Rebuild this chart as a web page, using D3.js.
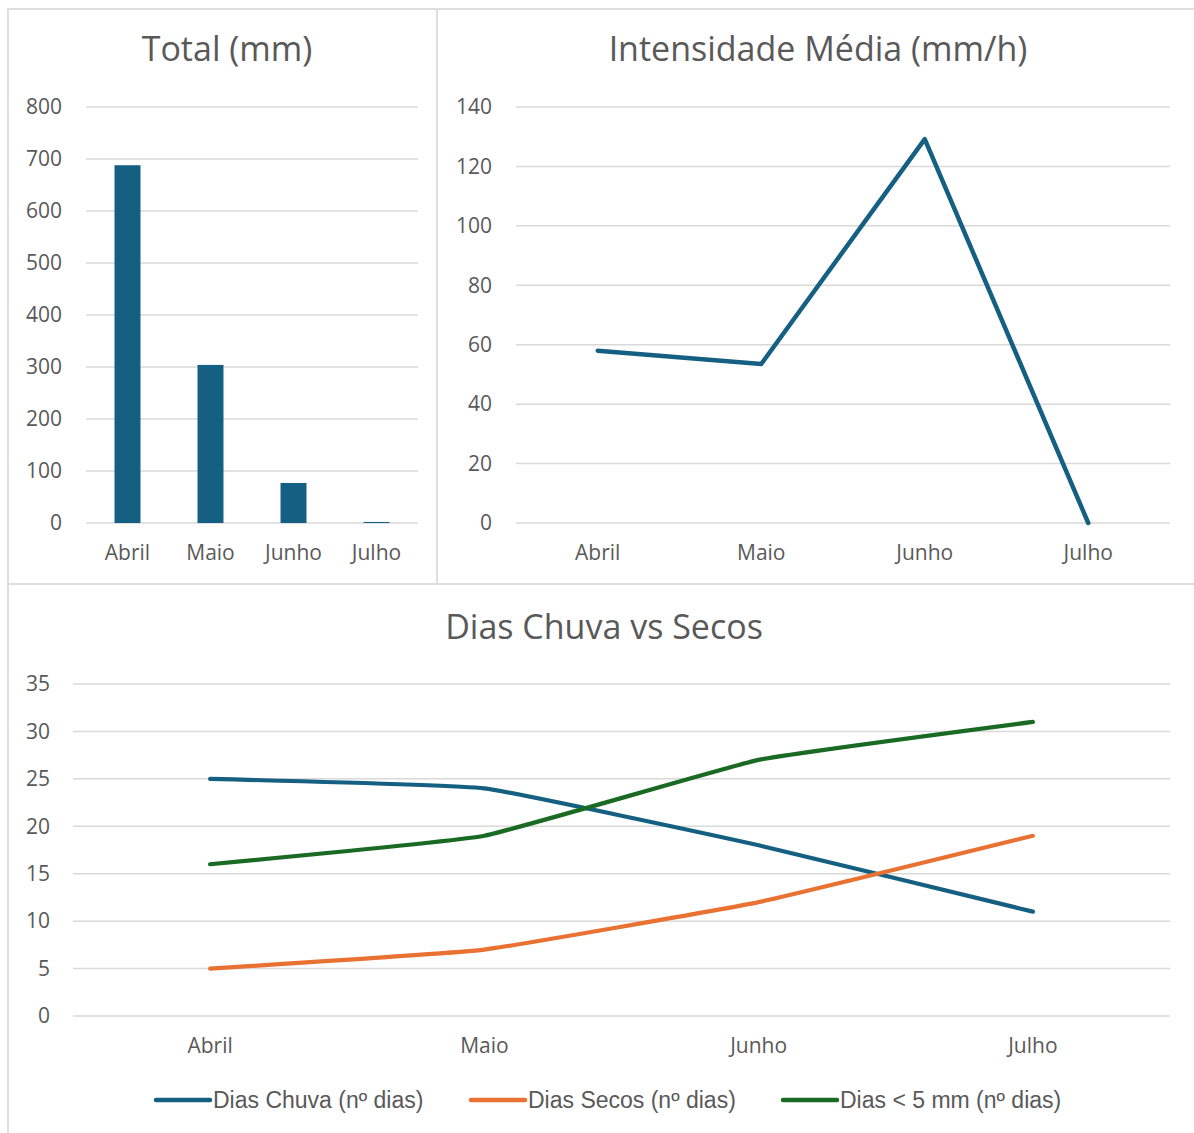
<!DOCTYPE html>
<html>
<head>
<meta charset="utf-8">
<script src="https://cdn.jsdelivr.net/npm/d3@7"></script>
<style>
  html, body { margin: 0; padding: 0; background: #ffffff; }
  svg { display: block; font-family: "Open Sans", "Noto Sans", sans-serif; }
</style>
</head>
<body>
<svg id="chart" width="1194" height="1133"></svg>
<script>
// ---- data ----
const categories = ["Abril", "Maio", "Junho", "Julho"];
const totalMm = [688, 304, 77, 2];
const intensidadeMedia = [58, 53.5, 129.2, 0];
const diasChuva = [25, 24, 18, 11];
const diasSecos = [5, 7, 12, 19];
const diasMenos5 = [16, 19, 27, 31];
const totalTicks = [0, 100, 200, 300, 400, 500, 600, 700, 800];
const intensTicks = [0, 20, 40, 60, 80, 100, 120, 140];
const diasTicks = [0, 5, 10, 15, 20, 25, 30, 35];
const titles = ["Total (mm)", "Intensidade Média (mm/h)", "Dias Chuva vs Secos"];
const seriesNames = ["Dias Chuva (nº dias)", "Dias Secos (nº dias)", "Dias < 5 mm (nº dias)"];
const colors = { blue: "#156082", orange: "#E97132", green: "#196B24" };

const TEXT = "#595959", GRID = "#d9d9d9", BORDER = "#dedede";
const svg = d3.select("#chart");

// ---- panel borders ----
const borders = svg.append("g").attr("fill", "none").attr("stroke", BORDER).attr("stroke-width", 2);
borders.append("line").attr("x1", 7).attr("x2", 1194).attr("y1", 9).attr("y2", 9);
borders.append("line").attr("x1", 8).attr("x2", 8).attr("y1", 8).attr("y2", 1133);
borders.append("line").attr("x1", 437).attr("x2", 437).attr("y1", 8).attr("y2", 584);
borders.append("line").attr("x1", 8).attr("x2", 1194).attr("y1", 584).attr("y2", 584);

function yAxisGrid(g, y, ticks, x0, x1, labelX) {
  g.append("g").selectAll("line").data(ticks).join("line")
    .attr("x1", x0).attr("x2", x1)
    .attr("y1", d => y(d)).attr("y2", d => y(d))
    .attr("stroke", GRID).attr("stroke-width", 1.5);
  g.append("g").selectAll("text").data(ticks).join("text")
    .attr("x", labelX).attr("y", d => y(d)).attr("dy", "0.35em")
    .attr("text-anchor", "end").attr("fill", TEXT).attr("font-size", 21)
    .text(d => d);
}
function xLabels(g, x, yPos) {
  g.append("g").selectAll("text").data(categories).join("text")
    .attr("x", d => x(d) + x.bandwidth() / 2).attr("y", yPos).attr("dy", "0.35em")
    .attr("text-anchor", "middle").attr("fill", TEXT).attr("font-size", 21)
    .text(d => d);
}
function title(text, cx, cy) {
  svg.append("text").attr("x", cx).attr("y", cy).attr("dy", "0.35em")
    .attr("text-anchor", "middle").attr("fill", TEXT).attr("font-size", 34)
    .text(text);
}

// ---- Panel 1: Total (mm) ----
{
  const g = svg.append("g");
  const x = d3.scaleBand().domain(categories).range([86, 418]).paddingInner(0.687).paddingOuter(0.3435);
  const y = d3.scaleLinear().domain([0, 800]).range([523, 107]);
  yAxisGrid(g, y, totalTicks, 86, 418, 62);
  g.append("g").selectAll("rect").data(categories).join("rect")
    .attr("x", d => x(d)).attr("width", x.bandwidth())
    .attr("y", (d, i) => y(totalMm[i]))
    .attr("height", (d, i) => y(0) - y(totalMm[i]))
    .attr("fill", colors.blue);
  const xl = d3.scaleBand().domain(categories).range([86, 418]);
  xLabels(g, xl, 553);
  title(titles[0], 227, 49);
}

// ---- Panel 2: Intensidade Média ----
{
  const g = svg.append("g");
  const x = d3.scaleBand().domain(categories).range([516, 1170]);
  const y = d3.scaleLinear().domain([0, 140]).range([523, 107]);
  yAxisGrid(g, y, intensTicks, 516, 1170, 492);
  const line = d3.line()
    .x((d, i) => x(categories[i]) + x.bandwidth() / 2)
    .y(d => y(d));
  g.append("path").datum(intensidadeMedia)
    .attr("d", line).attr("fill", "none")
    .attr("stroke", colors.blue).attr("stroke-width", 4.5)
    .attr("stroke-linejoin", "round").attr("stroke-linecap", "round");
  xLabels(g, x, 553);
  title(titles[1], 818, 49);
}

// ---- Panel 3: Dias Chuva vs Secos ----
{
  const g = svg.append("g");
  const x = d3.scaleBand().domain(categories).range([73, 1170]);
  const y = d3.scaleLinear().domain([0, 35]).range([1016, 684]);
  yAxisGrid(g, y, diasTicks, 73, 1170, 50);
  const line = d3.line()
    .x((d, i) => x(categories[i]) + x.bandwidth() / 2)
    .y(d => y(d))
    .curve(d3.curveCardinal.tension(0.7));
  const series = [
    { name: seriesNames[0], values: diasChuva, color: colors.blue },
    { name: seriesNames[1], values: diasSecos, color: colors.orange },
    { name: seriesNames[2], values: diasMenos5, color: colors.green }
  ];
  g.append("g").selectAll("path").data(series).join("path")
    .attr("d", d => line(d.values)).attr("fill", "none")
    .attr("stroke", d => d.color).attr("stroke-width", 4.2)
    .attr("stroke-linejoin", "round").attr("stroke-linecap", "round");
  xLabels(g, x, 1046);
  title(titles[2], 604, 627);

  // legend
  const legendX = [156, 471, 783];
  const lg = g.append("g").selectAll("g").data(series).join("g")
    .attr("transform", (d, i) => `translate(${legendX[i]},1100)`);
  lg.append("line").attr("x1", 0).attr("x2", 54).attr("y1", 0).attr("y2", 0)
    .attr("stroke", d => d.color).attr("stroke-width", 4.5).attr("stroke-linecap", "round");
  lg.append("text").attr("x", 57).attr("y", 0).attr("dy", "0.35em")
    .attr("fill", TEXT).attr("font-size", 23)
    .style("font-family", "'Liberation Sans', Arial, sans-serif")
    .text(d => d.name);
}
</script>
</body>
</html>
